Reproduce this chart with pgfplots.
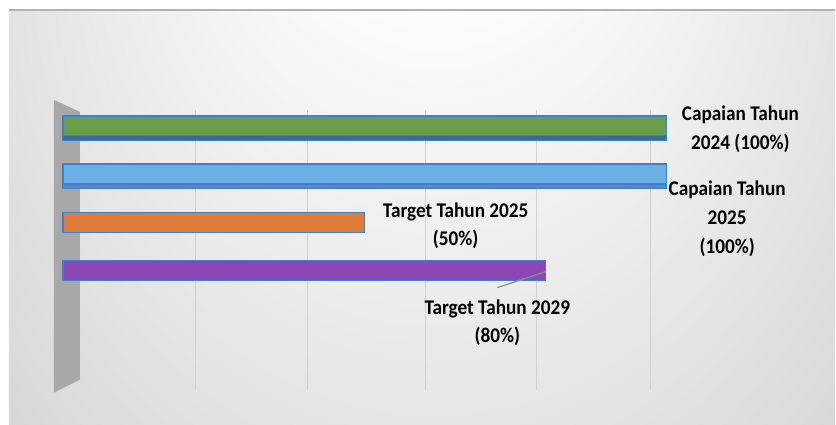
\documentclass[border=0pt]{standalone}
\usepackage{pgfplots}
\pgfplotsset{compat=1.18}
\usepackage{fontspec}
\setmainfont{Carlito}
\newfontfamily\labelfont[FakeStretch=0.92]{Carlito}
\definecolor{bargreen}{HTML}{6B9E4A}
\definecolor{barblue}{HTML}{6AAEE6}
\definecolor{barorange}{HTML}{E07C3A}
\definecolor{barpurple}{HTML}{8A47B5}
\definecolor{edgeblue}{HTML}{3F7FCF}
\definecolor{depthblue}{HTML}{3A68A0}
\pgfdeclareradialshading{bgshade}{\pgfpoint{1bp}{40bp}}{color(0bp)=(white);color(8bp)=(white);color(30bp)=(black!14);color(50bp)=(black!27);color(60bp)=(black!29);color(80bp)=(black!30)}
\begin{document}
\begin{tikzpicture}[x=1bp,y=1bp]
\path[fill=white] (0,0) rectangle (836,425);
\begin{scope}
\clip (9,0) rectangle (836,415);
\shade[shading=bgshade] (9,-575) rectangle (836,415);
\end{scope}
\draw[black!30, line width=2bp] (9,415) -- (836,415);
% left wall
\fill[black!34] (54,325) -- (80,313) -- (80,45) -- (54,32) -- cycle;
\begin{axis}[
  scale only axis,
  width=604bp, height=280bp,
  at={(63bp,35bp)}, anchor=south west,
  xmin=0, xmax=100, ymin=-1.46, ymax=4.33,
  axis line style={draw=none},
  tick style={draw=none},
  xtick={22,40.6,60,78.5,97.4},
  xticklabels={},
  ytick=\empty,
  xmajorgrids,
  grid style={black!18, line width=0.8bp},
  xbar, bar width=20bp,
  clip=false,
]
% depth faces
\addplot[xbar, bar shift=-2.5bp, bar width=24bp, fill=depthblue, draw=edgeblue, line width=1bp] coordinates {(100,4)};
\addplot[xbar, bar shift=-2.5bp, bar width=24bp, fill=depthblue!80, draw=edgeblue, line width=1bp] coordinates {(100,3)};
% main faces
\addplot[xbar, bar shift=0pt, fill=bargreen, draw=edgeblue, line width=1.4bp] coordinates {(100,4)};
\addplot[xbar, bar shift=0pt, fill=barblue, draw=edgeblue, line width=1.4bp] coordinates {(100,3)};
\addplot[xbar, bar shift=0pt, fill=barorange, draw=edgeblue, line width=1.4bp] coordinates {(50,2)};
\addplot[xbar, bar shift=0pt, fill=barpurple, draw=edgeblue, line width=1.4bp] coordinates {(80,1)};
% labels
\begin{scope}[every node/.style={font=\labelfont\fontsize{21}{29}\selectfont\bfseries, align=center, inner sep=0pt}]
\node at (axis cs:112.3,3.92) {Capaian Tahun\\2024 (100\%)};
\node at (axis cs:110.1,2.075) {Capaian Tahun\\2025\\(100\%)};
\node at (axis cs:65.1,1.93) {Target Tahun 2025\\(50\%)};
\node at (axis cs:72.0,-0.077) {Target Tahun 2029\\(80\%)};
\end{scope}
\draw[black!45, line width=1.2bp] (axis cs:72,0.65) -- (axis cs:80,0.98);
\end{axis}
\end{tikzpicture}
\end{document}
